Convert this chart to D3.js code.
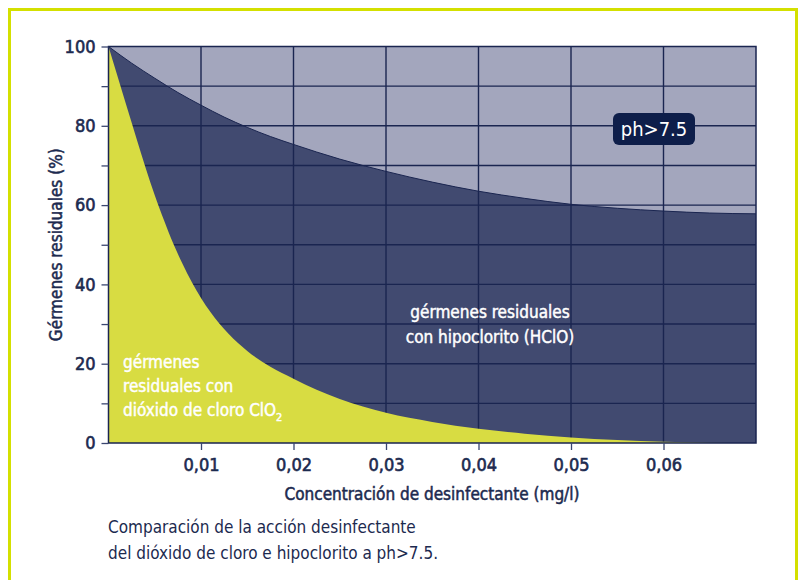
<!DOCTYPE html>
<html>
<head>
<meta charset="utf-8">
<script src="https://cdn.jsdelivr.net/npm/d3@7"></script>
<style>
  html, body { margin: 0; padding: 0; background: #ffffff; }
  svg { display: block; }
  text { font-family: "DejaVu Sans Condensed", "Liberation Sans Narrow", sans-serif; }
</style>
</head>
<body>
<svg id="chart" width="800" height="580"></svg>
<script>
// ---- data ----
const concentration = [0, 0.0025, 0.005, 0.0075, 0.01, 0.0125, 0.015, 0.0175, 0.02, 0.025, 0.03, 0.035, 0.04, 0.045, 0.05, 0.055, 0.06, 0.065, 0.07];
const hclo = [100, 95.8, 92, 88.4, 85.2, 82.2, 79.6, 77.3, 75.3, 71.6, 68.5, 65.8, 63.5, 61.7, 60.2, 59.2, 58.5, 58.0, 57.8];

const concentrationClO2 = [0, 0.001, 0.002, 0.003, 0.004, 0.005, 0.006, 0.007, 0.008, 0.009, 0.01, 0.011, 0.012, 0.013, 0.014, 0.015, 0.0175, 0.02, 0.0225, 0.025, 0.0275, 0.03, 0.035, 0.04, 0.045, 0.05, 0.055, 0.06, 0.065, 0.07];
const clo2 = [100, 92.3, 84.6, 77, 69.5, 62.5, 56.2, 50.3, 45.2, 40.6, 36.6, 33.1, 30.1, 27.5, 25.2, 23.2, 19.2, 16.2, 13.4, 11.1, 9.2, 7.6, 5.3, 3.6, 2.35, 1.4, 0.75, 0.3, 0.05, 0];

const xTicks = [0.01, 0.02, 0.03, 0.04, 0.05, 0.06];
const yTicks = [0, 10, 20, 30, 40, 50, 60, 70, 80, 90, 100];
const yLabelTicks = [0, 20, 40, 60, 80, 100];

const yTitle = "Gérmenes residuales (%)";
const xTitle = "Concentración de desinfectante (mg/l)";
const phLabel = "ph>7.5";
const hcloLabel = ["gérmenes residuales", "con hipoclorito (HClO)"];
const clo2Label = ["gérmenes", "residuales con", "dióxido de cloro ClO"];
const caption = ["Comparación de la acción desinfectante", "del dióxido de cloro e hipoclorito a ph>7.5."];

// ---- layout ----
const svg = d3.select("#chart");
const L = 108.5, R = 756, T = 46.5, B = 443;
const x = d3.scaleLinear().domain([0, 0.07]).range([L, R]);
const y = d3.scaleLinear().domain([0, 100]).range([B, T]);

const navy = "#1a2550";
const textCol = "#1c2a4f";

// frame
svg.append("rect")
  .attr("x", 9.5).attr("y", 9.5).attr("width", 787).attr("height", 600)
  .attr("fill", "#ffffff").attr("stroke", "#d4e000").attr("stroke-width", 3);

// light background
svg.append("rect")
  .attr("x", L).attr("y", T).attr("width", R - L).attr("height", B - T)
  .attr("fill", "#a3a6bd");

// HClO area
const hcloData = concentration.map((c, i) => ({c, v: hclo[i]}));
const areaH = d3.area().x(d => x(d.c)).y0(y(0)).y1(d => y(d.v)).curve(d3.curveMonotoneX);
svg.append("path").datum(hcloData).attr("d", areaH).attr("fill", "#414a70");
const lineH = d3.line().x(d => x(d.c)).y(d => y(d.v)).curve(d3.curveMonotoneX);
svg.append("path").datum(hcloData).attr("d", lineH)
  .attr("fill", "none").attr("stroke", navy).attr("stroke-width", 1);

// grid
const grid = svg.append("g").attr("stroke", navy).attr("stroke-width", 1.4);
grid.selectAll("line.v").data(xTicks).join("line")
  .attr("x1", d => x(d)).attr("x2", d => x(d)).attr("y1", T).attr("y2", B);
grid.selectAll("line.h").data(yTicks.filter(d => d > 0 && d < 100)).join("line")
  .attr("x1", L).attr("x2", R).attr("y1", d => y(d)).attr("y2", d => y(d));

// ClO2 area
const clo2Data = concentrationClO2.map((c, i) => ({c, v: clo2[i]}));
const areaC = d3.area().x(d => x(d.c)).y0(y(0)).y1(d => y(d.v)).curve(d3.curveMonotoneX);
svg.append("path").datum(clo2Data).attr("d", areaC).attr("fill", "#d8dc42");

// plot border
svg.append("rect")
  .attr("x", L).attr("y", T).attr("width", R - L).attr("height", B - T)
  .attr("fill", "none").attr("stroke", navy).attr("stroke-width", 1.5);

// axes
const yAxis = svg.append("g").attr("transform", `translate(${L},0)`)
  .call(d3.axisLeft(y).tickValues(yTicks).tickSize(7).tickPadding(6)
    .tickFormat(d => yLabelTicks.includes(d) ? String(d) : ""));
yAxis.select(".domain").remove();
yAxis.selectAll(".tick line").attr("stroke", "#3a4670").attr("stroke-width", 1.3);
yAxis.selectAll(".tick text").attr("fill", textCol).attr("font-size", 18)
  .attr("stroke", textCol).attr("stroke-width", 0.6).attr("font-family", "DejaVu Sans Condensed");

const xAxis = svg.append("g").attr("transform", `translate(0,${B})`)
  .call(d3.axisBottom(x).tickValues(xTicks).tickSize(7).tickPadding(8)
    .tickFormat(d => d3.format(".2f")(d).replace(".", ",")));
xAxis.select(".domain").remove();
xAxis.selectAll(".tick line").attr("stroke", "#3a4670").attr("stroke-width", 1.3);
xAxis.selectAll(".tick text").attr("fill", textCol).attr("font-size", 18)
  .attr("stroke", textCol).attr("stroke-width", 0.6).attr("font-family", "DejaVu Sans Condensed");

// titles
svg.append("text")
  .attr("transform", `translate(62,${(T + B) / 2}) rotate(-90)`)
  .attr("text-anchor", "middle").attr("fill", textCol)
  .attr("stroke", textCol).attr("stroke-width", 0.5)
  .attr("font-size", 17).text(yTitle);
svg.append("text")
  .attr("x", 432).attr("y", 500).attr("text-anchor", "middle").attr("fill", textCol)
  .attr("stroke", textCol).attr("stroke-width", 0.5)
  .attr("font-size", 17).text(xTitle);

// caption
svg.selectAll("text.cap").data(caption).join("text")
  .attr("x", 108).attr("y", (d, i) => 533 + i * 26)
  .attr("fill", textCol).attr("font-size", 17).text(d => d);

// ph box
svg.append("rect").attr("x", 613).attr("y", 113).attr("width", 82).attr("height", 32)
  .attr("rx", 6).attr("fill", "#0e1e4a");
svg.append("text").attr("x", 654).attr("y", 136).attr("text-anchor", "middle")
  .attr("fill", "#ffffff").attr("font-size", 20).text(phLabel);

// HClO label
svg.selectAll("text.hl").data(hcloLabel).join("text")
  .attr("x", 490).attr("y", (d, i) => 318 + i * 25).attr("text-anchor", "middle")
  .attr("fill", "#ffffff").attr("stroke", "#ffffff").attr("stroke-width", 0.45)
  .attr("font-size", 17).text(d => d);

// ClO2 label
const cl = svg.selectAll("text.cl").data(clo2Label).join("text")
  .attr("x", 123).attr("y", (d, i) => 368 + i * 24)
  .attr("fill", "#ffffff").attr("stroke", "#ffffff").attr("stroke-width", 0.45)
  .attr("font-size", 17).text(d => d);
cl.filter((d, i) => i === 2).append("tspan").attr("dy", 5).attr("font-size", 11).text("2");
</script>
</body>
</html>
